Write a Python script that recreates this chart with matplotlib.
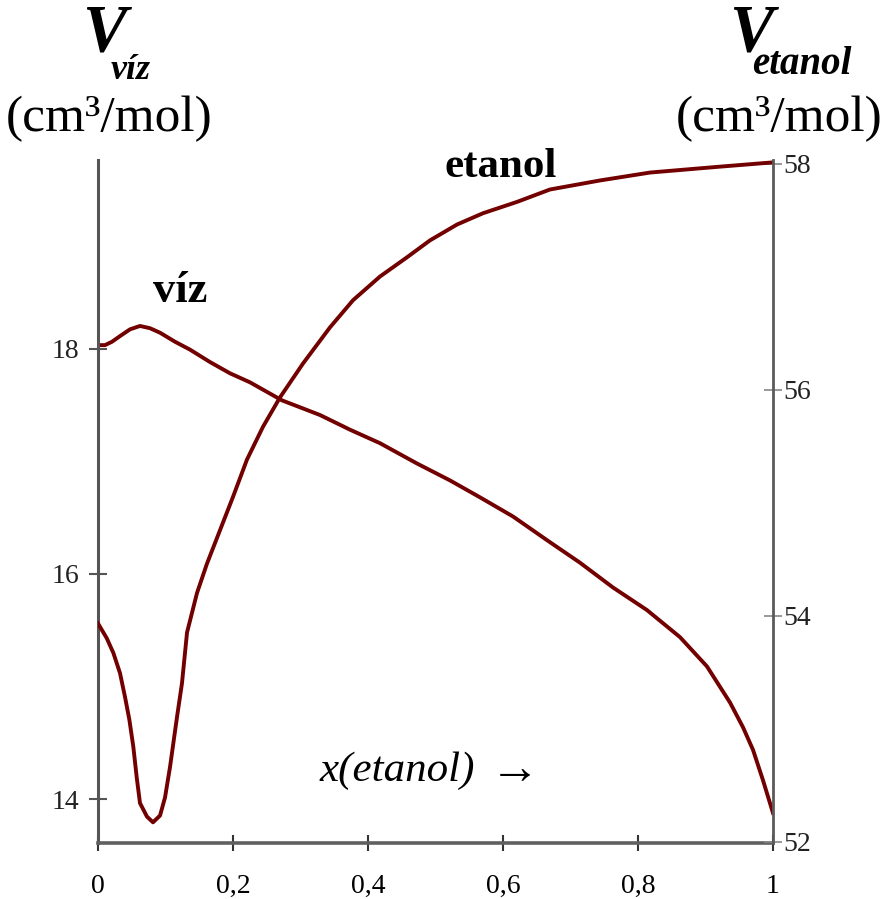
import matplotlib
matplotlib.use("Agg")
import matplotlib.pyplot as plt

# ---- data ----
x_viz = [0, 0.0104, 0.0207, 0.0326, 0.0474, 0.0622, 0.077, 0.0919, 0.1141, 0.1363,
         0.1659, 0.1956, 0.2252, 0.2726, 0.3289, 0.3733, 0.4178, 0.4726, 0.5215,
         0.5659, 0.6148, 0.6652, 0.7141, 0.763, 0.8133, 0.8622, 0.9022, 0.9363,
         0.9556, 0.9704, 0.9852, 1.0]
V_viz = [18.03, 18.03, 18.06, 18.11, 18.17, 18.20, 18.18, 18.14, 18.06, 17.99,
         17.88, 17.78, 17.70, 17.54, 17.41, 17.28, 17.16, 16.98, 16.83,
         16.68, 16.51, 16.30, 16.10, 15.88, 15.68, 15.44, 15.18, 14.86,
         14.64, 14.44, 14.17, 13.88]

x_et = [0, 0.0129, 0.0227, 0.0326, 0.04, 0.0464, 0.0523, 0.0573, 0.0622, 0.0726,
        0.0815, 0.0919, 0.0993, 0.1067, 0.117, 0.1244, 0.1319, 0.1467, 0.1615,
        0.2, 0.2207, 0.2444, 0.2696, 0.3037, 0.3437, 0.3778, 0.4178, 0.4578,
        0.4919, 0.5319, 0.5704, 0.6207, 0.6696, 0.7437, 0.8178, 0.917, 1.0]
V_et = [53.93, 53.80, 53.67, 53.49, 53.28, 53.08, 52.84, 52.57, 52.34, 52.22,
        52.17, 52.23, 52.39, 52.66, 53.10, 53.40, 53.85, 54.20, 54.46,
        55.05, 55.38, 55.67, 55.93, 56.23, 56.55, 56.79, 57.00, 57.17,
        57.32, 57.46, 57.56, 57.66, 57.77, 57.85, 57.92, 57.97, 58.01]

x_ticks = [0, 0.2, 0.4, 0.6, 0.8, 1.0]
x_ticklabels = ["0", "0,2", "0,4", "0,6", "0,8", "1"]
left_ticks = [14, 16, 18]
right_ticks = [52, 54, 56, 58]

W, H = 884, 899
fig = plt.figure(figsize=(W / 100, H / 100), dpi=100)
serif = ["Liberation Serif", "DejaVu Serif"]
plt.rcParams["font.family"] = serif

ax = fig.add_axes([98 / W, (H - 843) / H, (773 - 98) / W, (843 - 160) / H])
ax2 = ax.twinx()

line_col = "#720000"
ax.plot(x_viz, V_viz, color=line_col, lw=2.8, solid_joinstyle="round")
ax2.plot(x_et, V_et, color=line_col, lw=2.8, solid_joinstyle="round")

ax.set_xlim(0, 1)
ax.set_ylim(13.614, 19.672)
ax2.set_ylim(51.987, 58.031)

for a in (ax, ax2):
    a.spines["top"].set_visible(False)
ax2.spines["left"].set_visible(False)
ax2.spines["bottom"].set_visible(False)
ax.spines["right"].set_visible(False)
ax.spines["left"].set_color("#555555")
ax.spines["left"].set_linewidth(2.2)
ax.spines["bottom"].set_color("#606060")
ax.spines["bottom"].set_linewidth(2.6)
ax2.spines["right"].set_color("#5a5a5a")
ax2.spines["right"].set_linewidth(2.0)

ax.set_xticks(x_ticks)
ax.set_xticklabels(x_ticklabels)
ax.set_yticks(left_ticks)
ax2.set_yticks(right_ticks)

ax.tick_params(axis="x", direction="inout", length=12, width=1.5, colors="#333333",
               labelsize=20, pad=16, labelcolor="black")
ax.tick_params(axis="y", direction="inout", length=13, width=1.5, colors="#555555",
               labelsize=20, pad=7, labelcolor="#222222")
ax2.tick_params(axis="y", direction="inout", length=13, width=1.2, colors="#888888",
                labelsize=20, pad=1, labelcolor="#222222")

def ftext(x, y, s, **kw):
    fig.text(x / W, 1 - y / H, s, **kw)

# left axis title
ftext(104, 50, "V", fontsize=48, fontweight="bold", fontstyle="italic",
      ha="center", va="baseline")
ftext(111, 79, "víz", fontsize=26, fontweight="bold", fontstyle="italic",
      ha="left", va="baseline")
ftext(109, 131, "(cm³/mol)", fontsize=37, ha="center", va="baseline")

# right axis title
ftext(751, 50, "V", fontsize=48, fontweight="bold", fontstyle="italic",
      ha="center", va="baseline")
ftext(752, 74, "etanol", fontsize=28, fontweight="bold", fontstyle="italic",
      ha="left", va="baseline")
ftext(779, 131, "(cm³/mol)", fontsize=37, ha="center", va="baseline")

# curve labels
ftext(153, 302, "víz", fontsize=32, fontweight="bold", ha="left", va="baseline")
ftext(445, 177, "etanol", fontsize=31, fontweight="bold", ha="left", va="baseline")

# x label
ftext(320, 781, "x(etanol)", fontsize=31, fontstyle="italic", ha="left",
      va="baseline")
ftext(490, 783, "→", fontsize=36, ha="left", va="baseline")

fig.savefig("out.png", dpi=100)
